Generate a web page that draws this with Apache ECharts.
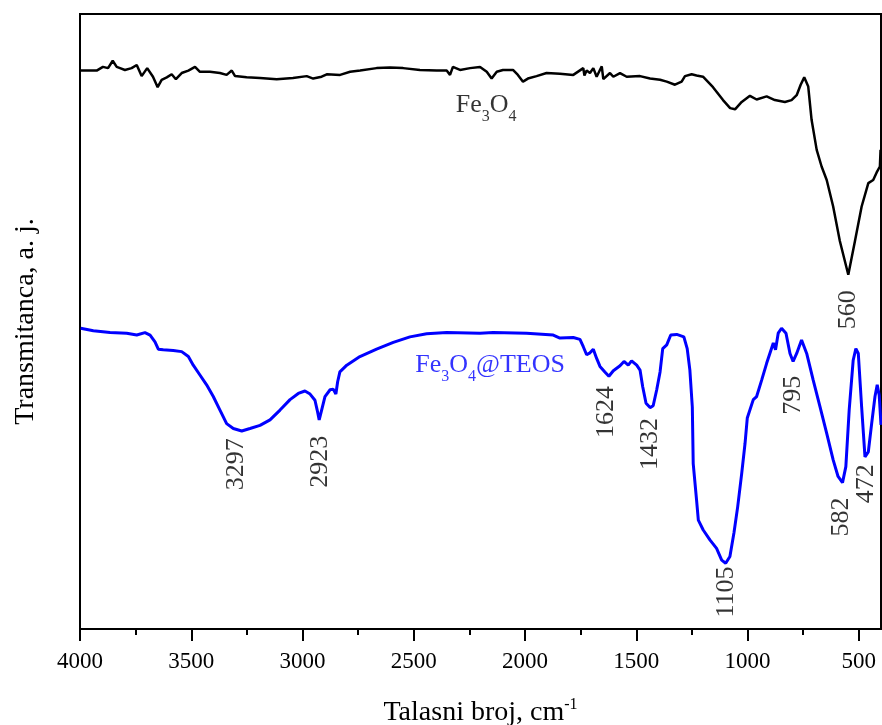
<!DOCTYPE html>
<html>
<head>
<meta charset="utf-8">
<script src="https://cdn.jsdelivr.net/npm/echarts@6/dist/echarts.min.js"></script>
<style>html,body{margin:0;padding:0;background:#fff}#c{width:882px;height:725px}</style>
</head>
<body>
<div id="c"></div>
<script>
// Fe3O4 spectrum (wavenumber cm-1, transmittance a.u.)
const fe3o4Wn = [3997,3925,3897,3874,3853,3835,3820,3798,3768,3745,3723,3698,3672,3651,3633,3610,3588,3569,3543,3513,3483,3461,3416,3371,3341,3318,3303,3251,3191,3116,3043,2981,2952,2914,2891,2831,2786,2741,2667,2607,2548,2472,2397,2352,2337,2324,2292,2247,2202,2172,2150,2127,2099,2054,2032,2009,1987,1948,1903,1843,1783,1738,1733,1723,1708,1693,1678,1655,1648,1618,1603,1573,1543,1483,1438,1393,1363,1326,1296,1281,1251,1229,1200,1155,1110,1078,1056,1026,989,959,914,877,832,802,779,761,745,727,712,689,667,644,615,585,547,517,487,457,435,420,405,402];
const fe3o4T = [90.8,90.8,91.4,91.2,92.4,91.4,91.2,90.9,91.2,91.7,89.9,91.2,89.8,88.1,89.3,89.7,90.2,89.4,90.4,90.8,91.4,90.6,90.6,90.4,90.1,90.8,89.9,89.7,89.6,89.4,89.6,89.9,89.5,89.8,90.2,90.1,90.6,90.8,91.2,91.3,91.2,90.9,90.8,90.8,90.1,91.4,90.9,91.2,91.4,90.6,89.5,90.6,90.9,90.9,90.1,89.0,89.5,89.9,90.4,90.3,90.1,91.2,90.0,90.8,90.4,91.2,89.8,91.5,89.4,90.4,89.8,90.4,89.8,89.9,89.5,89.3,89.0,88.5,89.0,89.9,90.2,90.0,89.8,88.1,86.0,84.7,84.5,85.7,86.7,86.1,86.6,86.0,85.7,86.0,86.8,88.5,89.7,88.2,82.8,77.9,75.2,73.0,68.7,63.1,57.6,63.1,68.7,72.5,73.0,74.2,75.2,77.9];

// Fe3O4@TEOS spectrum
const teosWn = [3997,3940,3865,3790,3745,3708,3685,3663,3648,3626,3581,3543,3513,3491,3461,3431,3401,3371,3341,3311,3273,3236,3191,3146,3101,3056,3019,2989,2966,2944,2934,2925,2914,2899,2876,2862,2850,2842,2832,2801,2742,2667,2592,2517,2442,2352,2202,2143,1993,1873,1843,1783,1753,1738,1723,1708,1693,1678,1663,1641,1623,1603,1573,1555,1536,1521,1498,1483,1471,1456,1438,1424,1408,1393,1381,1363,1345,1318,1286,1271,1259,1248,1244,1229,1221,1199,1169,1139,1116,1098,1079,1061,1044,1026,1011,1001,974,959,936,914,884,874,862,847,827,809,795,779,757,734,705,674,644,615,593,573,558,543,525,513,502,487,472,457,442,427,417,408,400];
const teosT = [48.9,48.5,48.2,48.1,47.8,48.2,47.8,46.7,45.5,45.4,45.3,45.1,44.3,42.9,41.3,39.7,37.8,35.6,33.4,32.6,32.2,32.6,33.1,34.0,35.6,37.3,38.3,38.7,38.2,37.2,35.6,34.0,35.6,37.8,38.9,39.0,38.2,40.2,41.8,42.9,44.3,45.5,46.6,47.5,48.0,48.2,48.1,48.2,48.1,47.8,47.3,47.4,47.1,45.9,44.6,44.9,45.5,44.0,42.7,41.8,41.1,42.0,42.8,43.5,42.9,43.6,42.9,42.1,39.4,36.7,36.0,36.3,38.9,41.8,45.6,46.2,47.8,47.9,47.5,45.6,42.1,36.1,26.9,21.0,17.7,16.1,14.5,13.1,11.2,10.7,11.8,15.6,19.9,25.3,30.2,34.3,37.3,37.8,40.5,43.2,46.5,45.4,48.1,48.9,48.1,44.8,43.5,44.8,47.0,44.8,40.5,36.1,31.8,27.5,24.8,23.8,26.4,35.6,43.7,45.6,44.8,36.1,28.0,28.8,33.4,37.8,39.7,38.0,33.2];

// Peak annotations
const peakText = ['3297','2923','1624','1432','1105','795','582','472','560'];
const peakWn   = [3299, 2921, 1633, 1438, 1094, 796, 580, 468, 549];
const peakT    = [26.8, 27.2, 35.3, 30.1, 6.0, 38.0, 18.2, 23.6, 51.9];

// Series name labels
const nameText = ['{m|Fe}{s|3}{m|O}{s|4}', '{m|Fe}{s|3}{m|O}{s|4}{m|@TEOS}'];
const nameWn   = [2175, 2157];
const nameT    = [85.2, 42.9];
const nameColor = ['#000000', '#0000ff'];

// Axis ticks
const xTicks = [500,1000,1500,2000,2500,3000,3500,4000];
const xMinorTicks = [750,1250,1750,2250,2750,3250,3750];

const FONT = '"Liberation Serif", "Times New Roman", serif';
const zip = (a, b) => a.map((v, i) => [v, b[i]]);

const chart = echarts.init(document.getElementById('c'), null, {renderer: 'canvas'});
const option = {
  animation: false,
  backgroundColor: '#fff',
  grid: {left: 80, right: 1, top: 14, bottom: 96, outerBoundsMode: 'none', containLabel: false,
    show: true, borderColor: '#000', borderWidth: 2, backgroundColor: 'transparent'},
  xAxis: [{
    type: 'value', min: 400, max: 4000, inverse: true, position: 'bottom',
    axisLine: {show: true, onZero: false, lineStyle: {color: '#000', width: 2}},
    axisTick: {show: true, inside: false, length: 12, lineStyle: {color: '#000', width: 2}, customValues: xTicks},
    axisLabel: {show: true, customValues: xTicks, margin: 21, color: '#000', fontFamily: FONT, fontSize: 23,
      formatter: v => String(v)},
    splitLine: {show: false},
    name: '{m|Talasni broj, cm}{sup|-1}', nameLocation: 'middle', nameGap: 68,
    nameTextStyle: {color: '#000', fontFamily: FONT, rich: {
      m: {fontSize: 28, fontFamily: FONT, lineHeight: 32, color: '#000'},
      sup: {fontSize: 16, fontFamily: FONT, lineHeight: 32, verticalAlign: 'top', color: '#000'}
    }}
  }, {
    type: 'value', min: 400, max: 4000, inverse: true, position: 'bottom',
    axisLine: {show: false, onZero: false},
    axisTick: {show: true, inside: false, length: 6, lineStyle: {color: '#000', width: 2}, customValues: xMinorTicks},
    axisLabel: {show: false}, splitLine: {show: false}
  }],
  yAxis: {
    type: 'value', min: 0, max: 100,
    axisLine: {show: true, lineStyle: {color: '#000', width: 2}},
    axisTick: {show: false}, axisLabel: {show: false}, splitLine: {show: false},
    name: 'Transmitanca, a. j.', nameLocation: 'middle', nameGap: 40, nameRotate: 90,
    nameTextStyle: {fontFamily: FONT, fontSize: 28, color: '#000'}
  },
  series: [{
    name: 'Fe3O4', type: 'line', xAxisIndex: 0, data: zip(fe3o4Wn, fe3o4T), showSymbol: false,
    lineStyle: {color: '#000', width: 2.5}, itemStyle: {color: '#000'}, silent: true
  }, {
    name: 'Fe3O4@TEOS', type: 'line', xAxisIndex: 0, data: zip(teosWn, teosT), showSymbol: false,
    lineStyle: {color: '#0000ff', width: 3}, itemStyle: {color: '#0000ff'}, silent: true
  }, {
    type: 'scatter', xAxisIndex: 0, silent: true, symbolSize: 1, itemStyle: {color: 'transparent'},
    data: peakText.map((t, i) => ({value: [peakWn[i], peakT[i]], name: t})),
    label: {show: true, position: 'inside', rotate: 90, formatter: '{b}', fontFamily: FONT, fontSize: 26, color: '#000', textBorderWidth: 0}
  }, {
    type: 'scatter', xAxisIndex: 0, silent: true, symbolSize: 1, itemStyle: {color: 'transparent'},
    data: nameText.map((t, i) => ({value: [nameWn[i], nameT[i]], label: {formatter: t, color: nameColor[i],
      rich: {
        m: {fontSize: 26, fontFamily: FONT, lineHeight: 40, color: nameColor[i]},
        s: {fontSize: 16, fontFamily: FONT, lineHeight: 40, verticalAlign: 'bottom', color: nameColor[i]}
      }}})),
    label: {show: true, position: 'inside', fontFamily: FONT, textBorderWidth: 0}
  }]
};
chart.setOption(option);
</script>
</body>
</html>
